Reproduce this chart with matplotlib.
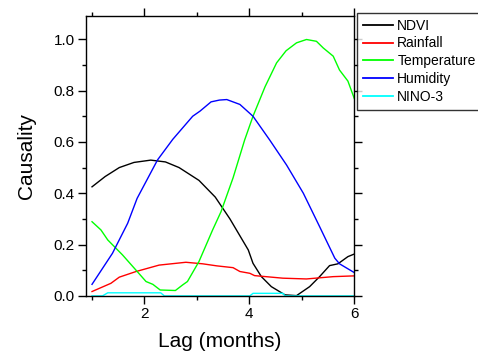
import matplotlib
matplotlib.use("Agg")
import matplotlib.pyplot as plt
from matplotlib.ticker import MultipleLocator

plt.rcParams['font.family'] = ['Liberation Sans', 'DejaVu Sans']

# NDVI
ndvi_x = [1.0, 1.25, 1.52, 1.8, 2.12, 2.4, 2.66, 3.04, 3.35, 3.63, 3.98, 4.07,
          4.23, 4.42, 4.68, 4.9, 5.15, 5.34, 5.53, 5.69, 5.88, 6.0]
ndvi_y = [0.425, 0.465, 0.50, 0.52, 0.529, 0.522, 0.50, 0.45, 0.385, 0.30, 0.179, 0.127,
          0.075, 0.036, 0.004, 0.001, 0.036, 0.075, 0.118, 0.125, 0.153, 0.163]

# Rainfall
rain_x = [1.0, 1.36, 1.52, 1.84, 2.28, 2.79, 3.11, 3.38, 3.69, 3.82, 4.01, 4.10,
          4.64, 5.09, 5.60, 6.0]
rain_y = [0.017, 0.049, 0.073, 0.095, 0.12, 0.131, 0.125, 0.117, 0.11, 0.095, 0.088, 0.079,
          0.069, 0.066, 0.075, 0.078]

# Temperature
temp_x = [1.0, 1.17, 1.30, 1.58, 1.84, 2.03, 2.16, 2.30, 2.59, 2.73, 2.82, 3.04,
          3.30, 3.46, 3.69, 3.91, 4.07, 4.3, 4.52, 4.70, 4.90, 5.09, 5.28, 5.41,
          5.60, 5.72, 5.88, 6.0]
temp_y = [0.289, 0.257, 0.218, 0.16, 0.10, 0.056, 0.045, 0.023, 0.021, 0.043, 0.056, 0.134,
          0.257, 0.328, 0.46, 0.607, 0.70, 0.815, 0.908, 0.955, 0.986, 0.999, 0.992, 0.966,
          0.934, 0.88, 0.837, 0.77]

# Humidity
hum_x = [1.0, 1.39, 1.68, 1.86, 2.25, 2.54, 2.92, 3.06, 3.27, 3.43, 3.57, 3.82,
         4.07, 4.39, 4.71, 5.03, 5.34, 5.63, 5.72, 6.0]
hum_y = [0.045, 0.166, 0.283, 0.38, 0.53, 0.61, 0.70, 0.72, 0.756, 0.763, 0.765, 0.746,
         0.70, 0.607, 0.51, 0.40, 0.27, 0.147, 0.125, 0.091]

# NINO-3
nino_x = [1.0, 1.2, 1.3, 2.31, 2.38, 4.01, 4.07, 4.64, 4.68, 6.0]
nino_y = [0.0, 0.0, 0.012, 0.012, 0.0, 0.0, 0.01, 0.01, 0.0, 0.0]

fig = plt.figure(figsize=(4.78, 3.51), dpi=100)
ax = fig.add_axes([0.180, 0.157, 0.561, 0.797])

ax.plot(ndvi_x, ndvi_y, color='black', lw=1.0, label='NDVI')
ax.plot(rain_x, rain_y, color='#ff0000', lw=1.0, label='Rainfall')
ax.plot(temp_x, temp_y, color='#00ff00', lw=1.0, label='Temperature')
ax.plot(hum_x, hum_y, color='#0000ff', lw=1.0, label='Humidity')
ax.plot(nino_x, nino_y, color='#00ffff', lw=1.0, label='NINO-3')

ax.set_xlim(0.886, 6.0)
ax.set_ylim(0, 1.09)
ax.xaxis.set_major_locator(MultipleLocator(2))
ax.xaxis.set_minor_locator(MultipleLocator(1))
ax.yaxis.set_major_locator(MultipleLocator(0.2))
ax.yaxis.set_minor_locator(MultipleLocator(0.1))
ax.yaxis.set_major_formatter(plt.FormatStrFormatter('%.1f'))
ax.tick_params(which='both', direction='out', top=True, right=True, labelsize=11, pad=2)
ax.tick_params(which='major', length=6, width=1)
ax.tick_params(which='minor', length=3, width=1)
for s in ax.spines.values():
    s.set_linewidth(1.0)

ax.set_xlabel('Lag (months)', fontsize=15, labelpad=8)
ax.set_ylabel('Causality', fontsize=15, labelpad=13)

leg = fig.legend(loc='upper left', bbox_to_anchor=(0.747, 0.963), borderaxespad=0,
                 fontsize=10, frameon=True, fancybox=False, edgecolor='black',
                 handlelength=2.2, handletextpad=0.3, labelspacing=0.28, borderpad=0.4)
leg.get_frame().set_linewidth(1.0)
for ln in leg.get_lines():
    ln.set_linewidth(1.3)

fig.savefig('out.png', dpi=100)
